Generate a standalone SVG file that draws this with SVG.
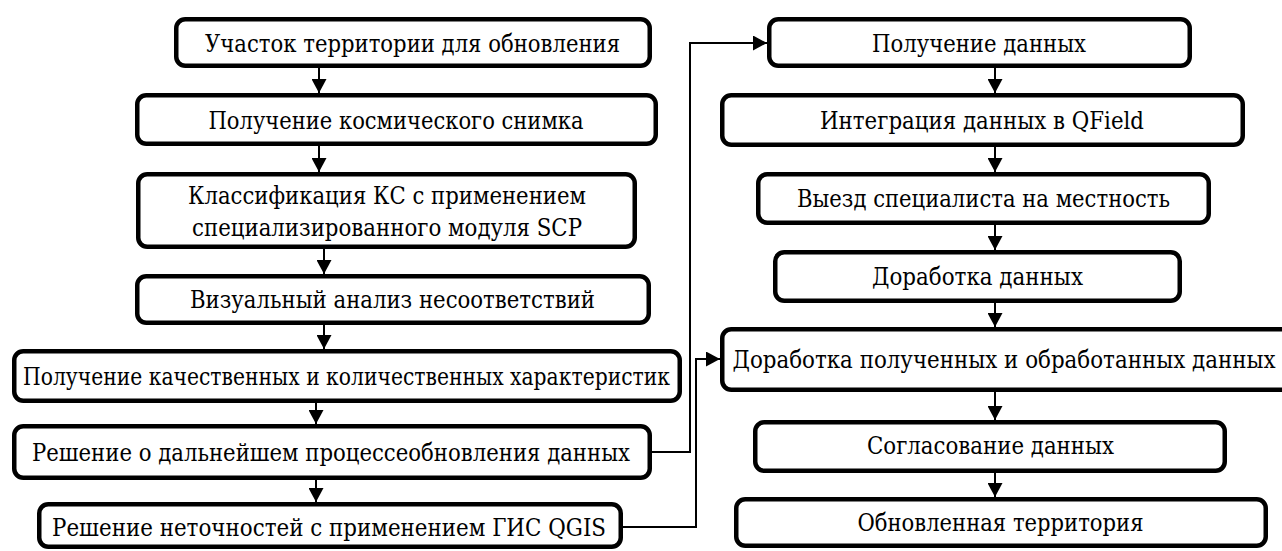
<svg xmlns="http://www.w3.org/2000/svg" width="1282" height="551" viewBox="0 0 1282 551">
<style>
.box{fill:#fff;stroke:#000;stroke-width:4.5}
.t{font-family:"DejaVu Serif","Liberation Serif",serif;font-size:24px;fill:#000;text-anchor:middle}
.c{fill:none;stroke:#000;stroke-width:2;marker-end:url(#ah)}
</style>
<defs>
<marker id="ah" viewBox="0 0 10 10" refX="10" refY="5" markerUnits="userSpaceOnUse" markerWidth="14" markerHeight="15" preserveAspectRatio="none" orient="auto">
<path d="M0,0 L10,5 L0,10 z" fill="#000"/>
</marker>
</defs>
<rect width="1282" height="551" fill="#fff"/>
<g id="connectors">
<line class="c" x1="319" y1="68" x2="319" y2="93"/>
<line class="c" x1="319" y1="146" x2="319" y2="172"/>
<line class="c" x1="324" y1="249" x2="324" y2="274"/>
<line class="c" x1="324" y1="325" x2="324" y2="349"/>
<line class="c" x1="316" y1="403" x2="316" y2="424"/>
<line class="c" x1="316" y1="480" x2="316" y2="502"/>
<line class="c" x1="995" y1="68" x2="995" y2="93"/>
<line class="c" x1="995" y1="147" x2="995" y2="172"/>
<line class="c" x1="995" y1="225" x2="995" y2="250"/>
<line class="c" x1="995" y1="303" x2="995" y2="327"/>
<line class="c" x1="995" y1="392" x2="995" y2="420"/>
<line class="c" x1="995" y1="473" x2="995" y2="497"/>
<path class="c" d="M652,452 H690 V43 H767"/>
<path class="c" d="M623,527 H696 V359 H720"/>
</g>
<g id="n1"><rect class="box" x="176.25" y="19.25" width="473.5" height="46.5" rx="9"/><text class="t" x="412.5" y="52" textLength="415" lengthAdjust="spacingAndGlyphs">Участок территории для обновления</text></g>
<g id="n2"><rect class="box" x="137.25" y="95.25" width="518.5" height="48.5" rx="9"/><text class="t" x="396" y="128.5" textLength="375" lengthAdjust="spacingAndGlyphs">Получение космического снимка</text></g>
<g id="n3"><rect class="box" x="138.25" y="174.25" width="496.5" height="72.5" rx="9"/><text class="t" x="387" y="204" textLength="398" lengthAdjust="spacingAndGlyphs">Классификация КС с применением</text><text class="t" x="387" y="236" textLength="390" lengthAdjust="spacingAndGlyphs">специализированного модуля SCP</text></g>
<g id="n4"><rect class="box" x="137.25" y="276.25" width="511.5" height="46.5" rx="9"/><text class="t" x="392.5" y="308" textLength="405" lengthAdjust="spacingAndGlyphs">Визуальный анализ несоответствий</text></g>
<g id="n5"><rect class="box" x="14.25" y="351.25" width="665.5" height="49.5" rx="9"/><text class="t" x="346.5" y="385" textLength="647" lengthAdjust="spacingAndGlyphs">Получение качественных и количественных характеристик</text></g>
<g id="n6"><rect class="box" x="14.25" y="426.25" width="635.5" height="51.5" rx="9"/><text class="t" x="331" y="461" textLength="598" lengthAdjust="spacingAndGlyphs">Решение о дальнейшем процессеобновления данных</text></g>
<g id="n7"><rect class="box" x="39.25" y="504.25" width="581.5" height="42.5" rx="9"/><text class="t" x="329" y="536" textLength="554" lengthAdjust="spacingAndGlyphs">Решение неточностей с применением ГИС QGIS</text></g>
<g id="r1"><rect class="box" x="769.25" y="19.25" width="420.5" height="46.5" rx="9"/><text class="t" x="979" y="52" textLength="214" lengthAdjust="spacingAndGlyphs">Получение данных</text></g>
<g id="r2"><rect class="box" x="722.25" y="95.25" width="520.5" height="49.5" rx="9"/><text class="t" x="982" y="129" textLength="324" lengthAdjust="spacingAndGlyphs">Интеграция данных в QField</text></g>
<g id="r3"><rect class="box" x="758.25" y="174.25" width="450.5" height="48.5" rx="9"/><text class="t" x="983.5" y="207" textLength="373" lengthAdjust="spacingAndGlyphs">Выезд специалиста на местность</text></g>
<g id="r4"><rect class="box" x="775.25" y="252.25" width="404.5" height="48.5" rx="9"/><text class="t" x="977.5" y="285" textLength="211" lengthAdjust="spacingAndGlyphs">Доработка данных</text></g>
<g id="r5"><rect class="box" x="722.25" y="329.25" width="567.5" height="60.5" rx="9"/><text class="t" x="1004" y="368" textLength="543" lengthAdjust="spacingAndGlyphs">Доработка полученных и обработанных данных</text></g>
<g id="r6"><rect class="box" x="755.25" y="422.25" width="469.5" height="48.5" rx="9"/><text class="t" x="990.5" y="454" textLength="247" lengthAdjust="spacingAndGlyphs">Согласование данных</text></g>
<g id="r7"><rect class="box" x="736.25" y="499.25" width="529.5" height="46.5" rx="9"/><text class="t" x="1000.5" y="531" textLength="286" lengthAdjust="spacingAndGlyphs">Обновленная территория</text></g>
</svg>
